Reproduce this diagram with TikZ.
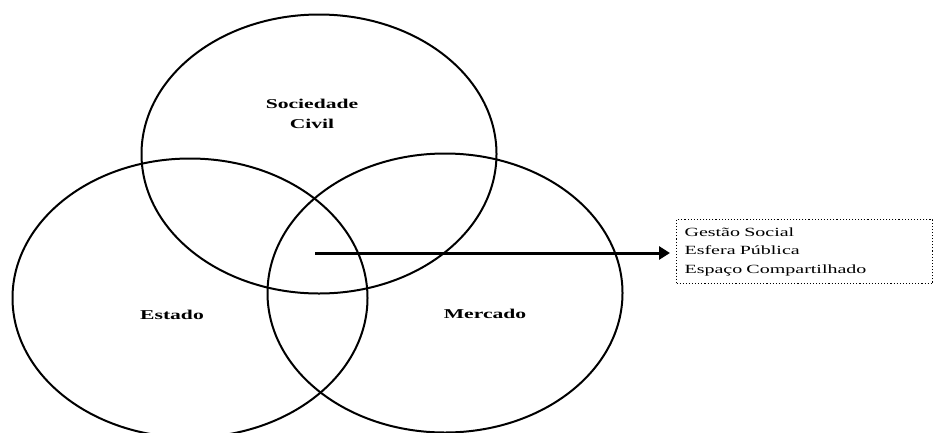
\documentclass[tikz,border=0pt]{standalone}
\usepackage{fontspec}
\setmainfont{Liberation Serif}
\newfontfamily\wideserif[FakeStretch=1.6]{Liberation Serif}
\newfontfamily\wideboxserif[FakeStretch=1.6]{Liberation Serif}
\usetikzlibrary{shapes.geometric,arrows.meta}
\begin{document}
\begin{tikzpicture}[x=1pt,y=-1pt,
  sphere/.style={draw=black,line width=2pt,ellipse,minimum width=355pt,minimum height=279pt,inner sep=0pt},
  label/.style={font=\wideserif\fontsize{13.5}{20}\selectfont\bfseries,align=center,inner sep=0pt},
  infobox/.style={draw=black,dotted,line width=1.1pt,font=\wideboxserif\fontsize{12.5}{18.5}\selectfont,align=left,
    text width=240pt,inner xsep=8pt,inner ysep=8pt,anchor=north west}]
\useasboundingbox (0,0) rectangle (933,432);
\clip (0,0) rectangle (933,432);
% the three spheres
\node[sphere] (civil) at (319,154) {};
\node[sphere] (estado) at (190,298) {};
\node[sphere] (mercado) at (445,293) {};
% their names
\node[label] (lcivil) at (312,114) {Sociedade\\Civil};
\node[label] (lestado) at (172,315) {Estado};
\node[label] (lmercado) at (485,314) {Mercado};
% shared space and its meanings
\coordinate (core) at (315,253);
\node[infobox] (info) at (676,219) {Gestão Social\\Esfera Pública\\Espaço Compartilhado};
\draw[line width=3pt,-{Triangle[length=11pt,width=13pt]},shorten >=6pt] (core) -- (core -| info.west);
\end{tikzpicture}
\end{document}
